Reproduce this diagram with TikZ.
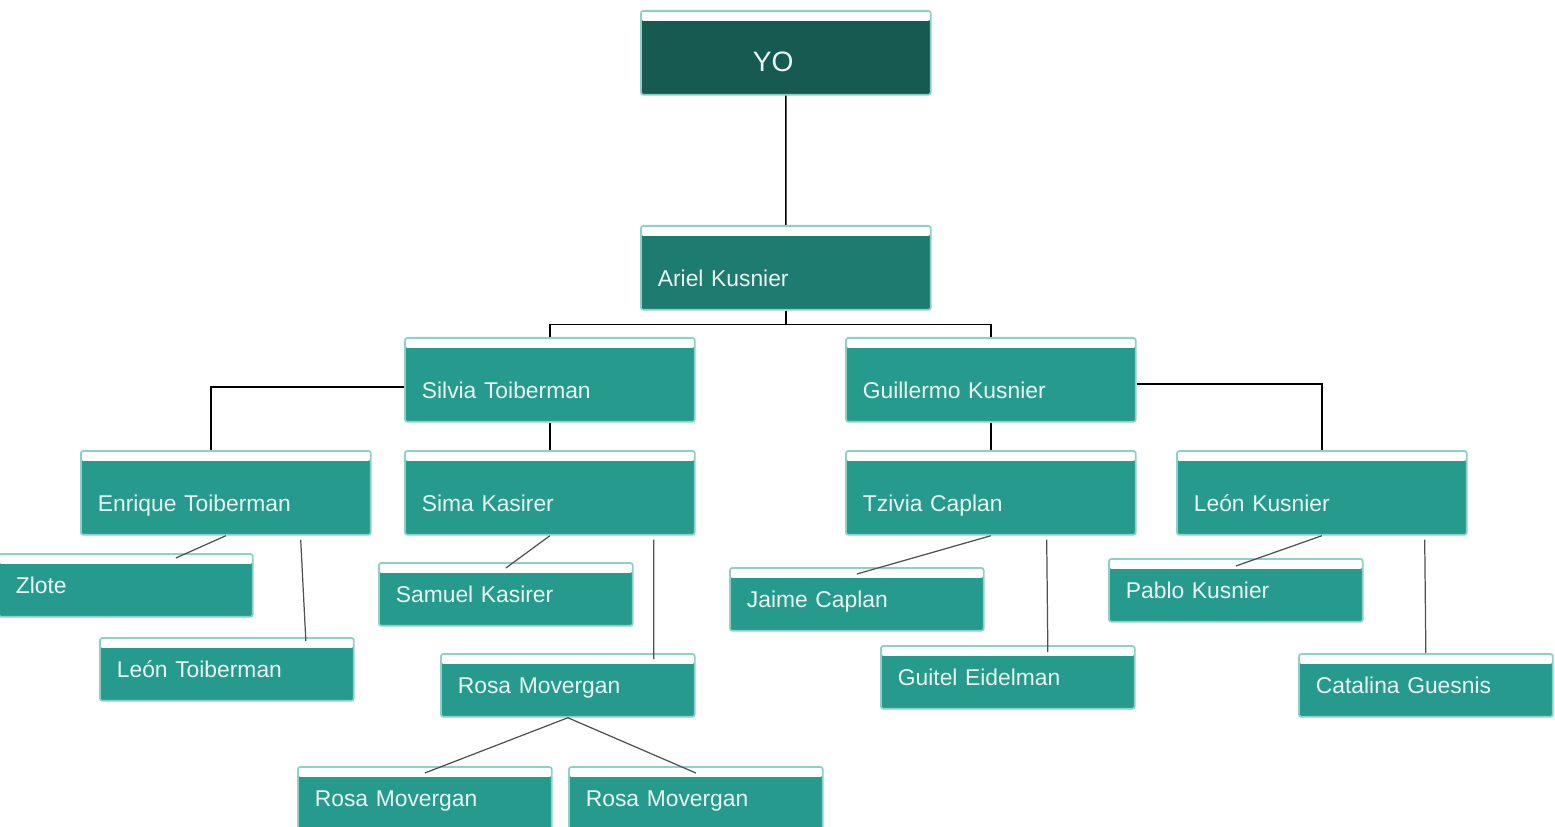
\documentclass[tikz,border=0pt]{standalone}
\usepackage{fontspec}
\setmainfont{Liberation Sans}
\usepackage{tikz}
\usetikzlibrary{calc}

\definecolor{verdeyo}{HTML}{175A52}
\definecolor{verdepadre}{HTML}{1E7B70}
\definecolor{verde}{HTML}{269B8D}
\definecolor{bordeverde}{HTML}{8DD0C6}
\definecolor{textoclaro}{HTML}{E9F6F3}
\definecolor{gris}{HTML}{505050}

\begin{document}
\begin{tikzpicture}[x=0.02cm, y=-0.02cm,
    persona/.style={anchor=north west, draw=bordeverde, line width=1pt, fill=verde,
        rounded corners=1.5pt, text=textoclaro, font=\fontsize{13}{15}\selectfont,
        align=left, inner ysep=0pt, inner xsep=0.34cm, text depth=0.46cm,
        path picture={\fill[white] (path picture bounding box.north west)
            rectangle ([yshift=-0.2cm]path picture bounding box.north east);}},
    grande/.style={persona, text width=5.12cm, text height=1.22cm},
    chico/.style={persona, text width=4.4cm, text height=0.8cm},
    arbol/.style={draw=black, line width=0.8pt},
    rama/.style={draw=gris, line width=0.7pt}]

\clip (0,0) rectangle (1555,827); % Bordes de la imagen

% Yo y padre
\node[grande, fill=verdeyo, inner xsep=2.24cm, text width=1.32cm,
      font=\fontsize{16}{18}\selectfont] (yo) at (640,10) {YO};
\node[grande, fill=verdepadre] (ariel) at (640,225) {Ariel Kusnier};

% Cajas grandes
\foreach \nombre/\x/\y/\texto in {silvia/404/337/Silvia Toiberman,
        guillermo/845/337/Guillermo Kusnier, enrique/80/450/Enrique Toiberman,
        sima/404/450/Sima Kasirer, tzivia/845/450/Tzivia Caplan,
        leonk/1176/450/León Kusnier} {
    \node[grande] (\nombre) at (\x,\y) {\texto};
}

% Cajas chicas
\foreach \nombre/\x/\y/\texto in {zlote/-2/553/Zlote, samuel/378/562/Samuel Kasirer,
        jaime/729/567/Jaime Caplan, pablo/1108/558/Pablo Kusnier,
        leont/99/637/León Toiberman, guitel/880/645/Guitel Eidelman,
        rosa/440/653/Rosa Movergan, catalina/1298/653/Catalina Guesnis,
        rosai/297/766/Rosa Movergan, rosad/568/766/Rosa Movergan} {
    \node[chico] (\nombre) at (\x,\y) {\texto};
}

% Lineas del arbol
\draw[arbol] (yo.south) -- (ariel.north);
\draw[arbol] (ariel.south) -- ++(0,14) -| (silvia.north)
             (ariel.south) ++(0,14) -| (guillermo.north);
\draw[arbol] ([yshift=-0.14cm]silvia.west) -| ([xshift=-0.3cm]enrique.north);
\draw[arbol] (silvia.south) -- (sima.north);
\draw[arbol] ([yshift=-0.08cm]guillermo.east) -| (leonk.north);
\draw[arbol] (guillermo.south) -- (tzivia.north);

% Ramas inclinadas
\draw[rama] (enrique.south) -- ($(zlote.north)+(50,5)$);
\draw[rama] ($(enrique.south east)+(-71,4)$) -- ($(leont.north)+(79,4)$);
\draw[rama] (sima.south) -- ($(samuel.north)+(0,6)$);
\draw[rama] ($(sima.south east)+(-42,4)$) -- ($(rosa.north)+(86,6)$);
\draw[rama] (tzivia.south) -- ($(jaime.north)+(0,7)$);
\draw[rama] ($(tzivia.south east)+(-90,4)$) -- ($(guitel.north)+(40,7)$);
\draw[rama] (leonk.south) -- ($(pablo.north)+(0,8)$);
\draw[rama] ($(leonk.south east)+(-43,4)$) -- (catalina.north);
\draw[rama] (rosa.south) -- ($(rosai.north)+(0,7)$);
\draw[rama] (rosa.south) -- ($(rosad.north)+(0,7)$);

\end{tikzpicture}
\end{document}
